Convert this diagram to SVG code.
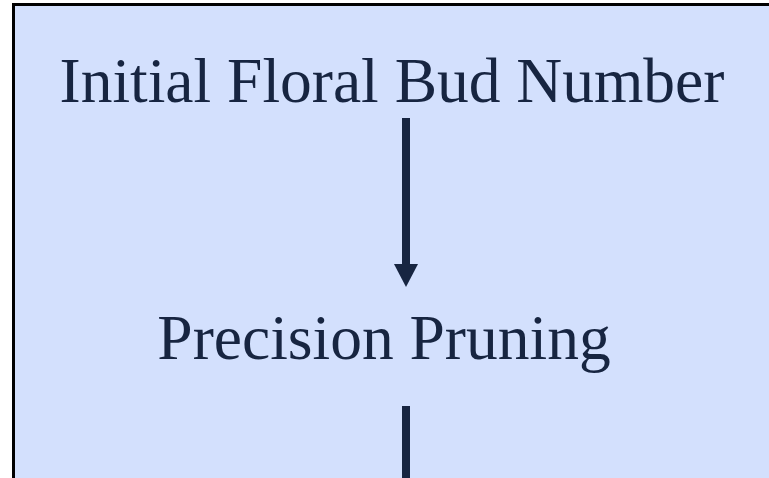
<svg xmlns="http://www.w3.org/2000/svg" width="769" height="478" viewBox="0 0 769 478">
<style>
.lbl{font-family:"Liberation Serif","Times New Roman",serif;font-size:63.5px;fill:#172541;text-anchor:middle}
.shaft{fill:#172541}
</style>
<rect x="0" y="0" width="769" height="478" fill="#ffffff"/>
<g id="frame">
<rect x="13.5" y="4.5" width="780" height="500" fill="#D3E0FD" stroke="#000000" stroke-width="3"/>
</g>
<g id="node-initial">
<text class="lbl" x="392" y="102">Initial Floral Bud Number</text>
</g>
<g id="node-pruning">
<text class="lbl" x="384" y="359">Precision Pruning</text>
</g>
<g id="connectors">
<rect class="shaft" x="402" y="118" width="8" height="147"/>
<polygon class="shaft" points="394,264 418,264 406,287"/>
<rect class="shaft" x="402" y="406" width="8" height="80"/>
</g>
</svg>
